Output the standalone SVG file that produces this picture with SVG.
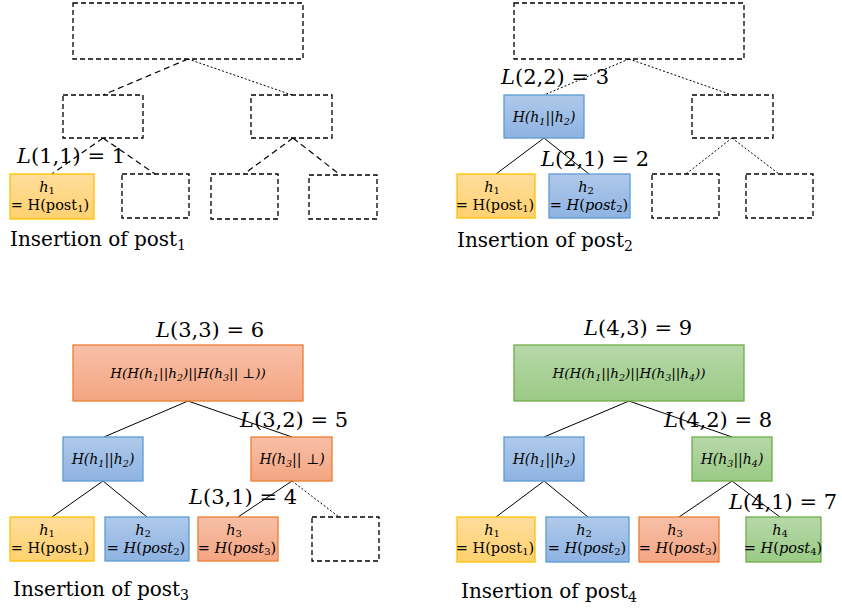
<svg xmlns="http://www.w3.org/2000/svg" width="842" height="613" viewBox="0 0 842 613">
<defs>
<linearGradient id="gy" x1="0" y1="0" x2="0" y2="1"><stop offset="0" stop-color="#FFDD9C"/><stop offset="1" stop-color="#FFD16F"/></linearGradient>
<linearGradient id="gb" x1="0" y1="0" x2="0" y2="1"><stop offset="0" stop-color="#AFC9EA"/><stop offset="1" stop-color="#8EB3E2"/></linearGradient>
<linearGradient id="go" x1="0" y1="0" x2="0" y2="1"><stop offset="0" stop-color="#F7C0A8"/><stop offset="1" stop-color="#F4A582"/></linearGradient>
<linearGradient id="gg" x1="0" y1="0" x2="0" y2="1"><stop offset="0" stop-color="#B7D8A9"/><stop offset="1" stop-color="#9ACA85"/></linearGradient>
</defs>
<style>
.dash{fill:#fff;stroke:#000;stroke-width:1.3;stroke-dasharray:5,3}
.y{fill:url(#gy);stroke:#FFC000;stroke-width:1.3}
.b{fill:url(#gb);stroke:#5B9BD5;stroke-width:1.3}
.o{fill:url(#go);stroke:#ED7D31;stroke-width:1.3}
.g{fill:url(#gg);stroke:#70AD47;stroke-width:1.3}
.ln{stroke:#000;stroke-width:1;fill:none}
.ld{stroke:#000;stroke-width:1.2;fill:none;stroke-dasharray:6,4}
.lt{stroke:#000;stroke-width:1;fill:none;stroke-dasharray:2,2}
text{font-family:"DejaVu Serif","Liberation Serif",serif;fill:#000}
.lab{font-size:21px}
.ins{font-size:20px}
.nt{font-size:14px;font-style:italic;text-anchor:middle}
.tt{font-size:13.5px;font-style:italic;text-anchor:middle}
.lf{font-size:14.5px;text-anchor:middle}
.it{font-style:italic}
.s{font-size:10px}
</style>

<g id="connectors">
<line class="ld" x1="188" y1="59" x2="103" y2="95"/>
<line class="lt" x1="188" y1="59" x2="292" y2="95"/>
<line class="ld" x1="103" y1="138" x2="52" y2="174"/>
<line class="ld" x1="103" y1="138" x2="155" y2="174"/>
<line class="ld" x1="293" y1="138" x2="244" y2="174"/>
<line class="ld" x1="293" y1="138" x2="339" y2="174"/>
<line class="lt" x1="629" y1="59" x2="544" y2="95"/>
<line class="lt" x1="629" y1="59" x2="732" y2="95"/>
<line class="ln" x1="544" y1="138" x2="496" y2="174"/>
<line class="ln" x1="544" y1="138" x2="589" y2="174"/>
<line class="lt" x1="732" y1="138" x2="686" y2="174"/>
<line class="lt" x1="732" y1="138" x2="779" y2="174"/>
<line class="ln" x1="188" y1="401" x2="104" y2="437"/>
<line class="ln" x1="188" y1="401" x2="292" y2="437"/>
<line class="ln" x1="103" y1="481" x2="52" y2="517"/>
<line class="ln" x1="103" y1="481" x2="147" y2="517"/>
<line class="ln" x1="292" y1="481" x2="238" y2="517"/>
<line class="lt" x1="292" y1="481" x2="339" y2="517"/>
<line class="ln" x1="629" y1="401" x2="544" y2="437"/>
<line class="ln" x1="629" y1="401" x2="732" y2="437"/>
<line class="ln" x1="544" y1="481" x2="496" y2="517"/>
<line class="ln" x1="544" y1="481" x2="588" y2="517"/>
<line class="ln" x1="732" y1="481" x2="679" y2="517"/>
<line class="ln" x1="732" y1="481" x2="780" y2="517"/>
</g>

<!-- Panel 1 -->
<g id="p1-root"><rect class="dash" x="73" y="3" width="230" height="56"/></g>
<g id="p1-m1"><rect class="dash" x="63" y="95" width="80" height="43"/></g>
<g id="p1-m2"><rect class="dash" x="251" y="95" width="81" height="43"/></g>
<g id="p1-h1"><rect class="y" x="10" y="174" width="84" height="45"/>
<text class="lf" x="47" y="192"><tspan class="it">h</tspan><tspan class="s" dy="2">1</tspan></text>
<text class="lf" x="50" y="210">= H(post<tspan class="s" dy="2">1</tspan><tspan dy="-2">)</tspan></text></g>
<g id="p1-l2"><rect class="dash" x="122" y="174" width="67" height="44"/></g>
<g id="p1-l3"><rect class="dash" x="211" y="174" width="67" height="45"/></g>
<g id="p1-l4"><rect class="dash" x="309" y="175" width="68" height="44"/></g>
<text class="lab" x="17" y="163"><tspan class="it">L</tspan>(1,1) = 1</text>
<text class="ins" x="10" y="246">Insertion of post<tspan font-size="14" dy="4">1</tspan></text>

<!-- Panel 2 -->
<g id="p2-root"><rect class="dash" x="514" y="3" width="230" height="56"/></g>
<g id="p2-m1"><rect class="b" x="504" y="95" width="80" height="43"/>
<text class="nt" x="544" y="122">H(h<tspan font-size="9.5" dy="3">1</tspan><tspan dy="-3">||h</tspan><tspan font-size="9.5" dy="3">2</tspan><tspan dy="-3">)</tspan></text></g>
<g id="p2-m2"><rect class="dash" x="692" y="95" width="81" height="43"/></g>
<g id="p2-h1"><rect class="y" x="457" y="174" width="78" height="44"/>
<text class="lf" x="492" y="192"><tspan class="it">h</tspan><tspan class="s" dy="2">1</tspan></text>
<text class="lf" x="495" y="210">= H(post<tspan class="s" dy="2">1</tspan><tspan dy="-2">)</tspan></text></g>
<g id="p2-h2"><rect class="b" x="549" y="174" width="81" height="44"/>
<text class="lf" x="586" y="192"><tspan class="it">h</tspan><tspan class="s" dy="2">2</tspan></text>
<text class="lf" x="589" y="210">= <tspan class="it">H</tspan>(<tspan class="it">post</tspan><tspan class="s" dy="2">2</tspan><tspan dy="-2">)</tspan></text></g>
<g id="p2-l3"><rect class="dash" x="652" y="174" width="67" height="44"/></g>
<g id="p2-l4"><rect class="dash" x="746" y="174" width="67" height="44"/></g>
<text class="lab" x="501" y="84"><tspan class="it">L</tspan>(2,2) = 3</text>
<text class="lab" x="541" y="166"><tspan class="it">L</tspan>(2,1) = 2</text>
<text class="ins" x="457" y="247">Insertion of post<tspan font-size="14" dy="4">2</tspan></text>

<!-- Panel 3 -->
<g id="p3-root"><rect class="o" x="73" y="345" width="230" height="56"/>
<text class="tt" x="188" y="378">H(H(h<tspan font-size="9.5" dy="3">1</tspan><tspan dy="-3">||h</tspan><tspan font-size="9.5" dy="3">2</tspan><tspan dy="-3">)||H(h</tspan><tspan font-size="9.5" dy="3">3</tspan><tspan dy="-3">|| ⊥))</tspan></text></g>
<g id="p3-m1"><rect class="b" x="63" y="437" width="80" height="44"/>
<text class="nt" x="103" y="464">H(h<tspan font-size="9.5" dy="3">1</tspan><tspan dy="-3">||h</tspan><tspan font-size="9.5" dy="3">2</tspan><tspan dy="-3">)</tspan></text></g>
<g id="p3-m2"><rect class="o" x="251" y="437" width="81" height="44"/>
<text class="nt" x="292" y="464">H(h<tspan font-size="9.5" dy="3">3</tspan><tspan dy="-3">|| ⊥)</tspan></text></g>
<g id="p3-h1"><rect class="y" x="10" y="517" width="84" height="44"/>
<text class="lf" x="47" y="535"><tspan class="it">h</tspan><tspan class="s" dy="2">1</tspan></text>
<text class="lf" x="50" y="553">= H(post<tspan class="s" dy="2">1</tspan><tspan dy="-2">)</tspan></text></g>
<g id="p3-h2"><rect class="b" x="105" y="517" width="84" height="44"/>
<text class="lf" x="143" y="535"><tspan class="it">h</tspan><tspan class="s" dy="2">2</tspan></text>
<text class="lf" x="146" y="553">= <tspan class="it">H</tspan>(<tspan class="it">post</tspan><tspan class="s" dy="2">2</tspan><tspan dy="-2">)</tspan></text></g>
<g id="p3-h3"><rect class="o" x="198" y="517" width="80" height="44"/>
<text class="lf" x="234" y="535"><tspan class="it">h</tspan><tspan class="s" dy="2">3</tspan></text>
<text class="lf" x="237" y="553">= <tspan class="it">H</tspan>(<tspan class="it">post</tspan><tspan class="s" dy="2">3</tspan><tspan dy="-2">)</tspan></text></g>
<g id="p3-l4"><rect class="dash" x="312" y="517" width="67" height="44"/></g>
<text class="lab" x="156" y="337"><tspan class="it">L</tspan>(3,3) = 6</text>
<text class="lab" x="240" y="427"><tspan class="it">L</tspan>(3,2) = 5</text>
<text class="lab" x="189" y="504"><tspan class="it">L</tspan>(3,1) = 4</text>
<text class="ins" x="13" y="596">Insertion of post<tspan font-size="14" dy="4">3</tspan></text>

<!-- Panel 4 -->
<g id="p4-root"><rect class="g" x="514" y="345" width="230" height="56"/>
<text class="tt" x="629" y="378">H(H(h<tspan font-size="9.5" dy="3">1</tspan><tspan dy="-3">||h</tspan><tspan font-size="9.5" dy="3">2</tspan><tspan dy="-3">)||H(h</tspan><tspan font-size="9.5" dy="3">3</tspan><tspan dy="-3">||h</tspan><tspan font-size="9.5" dy="3">4</tspan><tspan dy="-3">))</tspan></text></g>
<g id="p4-m1"><rect class="b" x="504" y="437" width="80" height="44"/>
<text class="nt" x="544" y="464">H(h<tspan font-size="9.5" dy="3">1</tspan><tspan dy="-3">||h</tspan><tspan font-size="9.5" dy="3">2</tspan><tspan dy="-3">)</tspan></text></g>
<g id="p4-m2"><rect class="g" x="692" y="437" width="80" height="44"/>
<text class="nt" x="732" y="464">H(h<tspan font-size="9.5" dy="3">3</tspan><tspan dy="-3">||h</tspan><tspan font-size="9.5" dy="3">4</tspan><tspan dy="-3">)</tspan></text></g>
<g id="p4-h1"><rect class="y" x="457" y="517" width="78" height="45"/>
<text class="lf" x="492" y="535"><tspan class="it">h</tspan><tspan class="s" dy="2">1</tspan></text>
<text class="lf" x="495" y="553">= H(post<tspan class="s" dy="2">1</tspan><tspan dy="-2">)</tspan></text></g>
<g id="p4-h2"><rect class="b" x="546" y="517" width="83" height="45"/>
<text class="lf" x="584" y="535"><tspan class="it">h</tspan><tspan class="s" dy="2">2</tspan></text>
<text class="lf" x="587" y="553">= <tspan class="it">H</tspan>(<tspan class="it">post</tspan><tspan class="s" dy="2">2</tspan><tspan dy="-2">)</tspan></text></g>
<g id="p4-h3"><rect class="o" x="639" y="517" width="80" height="45"/>
<text class="lf" x="675" y="535"><tspan class="it">h</tspan><tspan class="s" dy="2">3</tspan></text>
<text class="lf" x="678" y="553">= <tspan class="it">H</tspan>(<tspan class="it">post</tspan><tspan class="s" dy="2">3</tspan><tspan dy="-2">)</tspan></text></g>
<g id="p4-h4"><rect class="g" x="746" y="517" width="75" height="45"/>
<text class="lf" x="780" y="535"><tspan class="it">h</tspan><tspan class="s" dy="2">4</tspan></text>
<text class="lf" x="783" y="553">= <tspan class="it">H</tspan>(<tspan class="it">post</tspan><tspan class="s" dy="2">4</tspan><tspan dy="-2">)</tspan></text></g>
<text class="lab" x="584" y="335"><tspan class="it">L</tspan>(4,3) = 9</text>
<text class="lab" x="664" y="427"><tspan class="it">L</tspan>(4,2) = 8</text>
<text class="lab" x="729" y="509"><tspan class="it">L</tspan>(4,1) = 7</text>
<text class="ins" x="461" y="598">Insertion of post<tspan font-size="14" dy="4">4</tspan></text>
</svg>
